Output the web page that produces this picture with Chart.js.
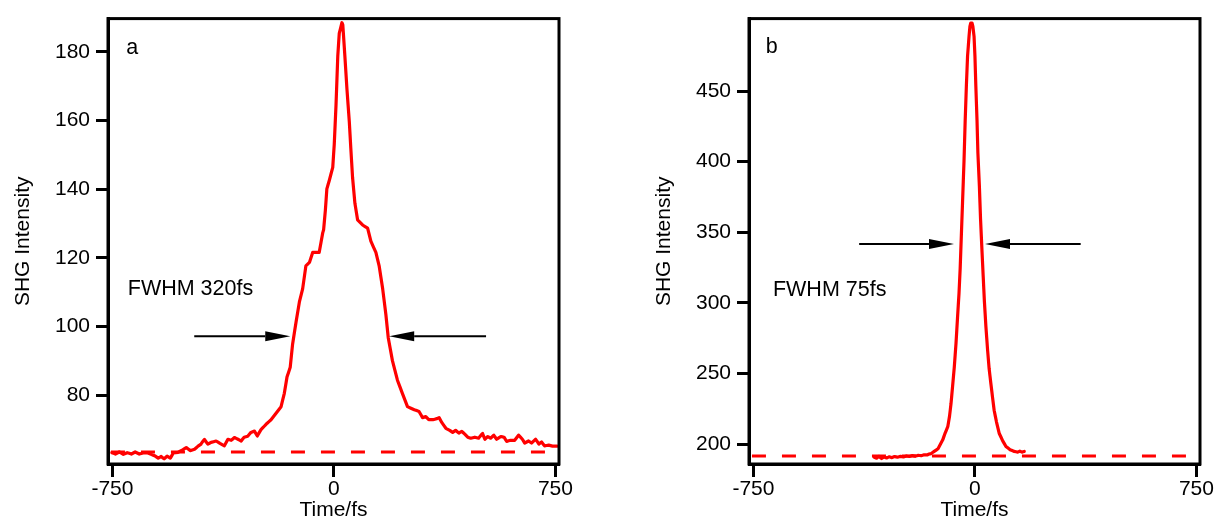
<!DOCTYPE html>
<html><head><meta charset="utf-8">
<script src="https://cdn.jsdelivr.net/npm/chart.js@4.4.1/dist/chart.umd.min.js"></script>
<style>
html,body{margin:0;padding:0;background:#fff;overflow:hidden}
#wa{position:absolute;left:0;top:0;width:600px;height:525px}
#wb{position:absolute;left:610px;top:0;width:609px;height:525px}
</style></head><body>
<div id="wa"><canvas id="ca"></canvas></div>
<div id="wb"><canvas id="cb"></canvas></div>
<script>
// ---- Panel a data (Time / fs, SHG intensity) ----
const timeA = [
  -752,-740,-727,-713,-700,-686,-673,-659,-646,-632,
  -619,-605,-595,-585,-575,-565,-554,-544,-528,-514,
  -500,-487,-472,-460,-450,-439,-427,-416,-399,-386,
  -371,-359,-348,-337,-325,-314,-304,-292,-281,-269,
  -260,-247,-236,-227,-213,-196,-179,-168,-159,-148,
  -140,-128,-117,-106,-95,-83,-72,-50,-38,-35,
  -29,-24,-16,-4,1,7,13,18,27,30,
  37,44,52,57,63,71,80,97,114,125,
  142,153,165,176,184,198,215,232,249,272,
  288,300,311,321,335,348,356,365,379,392,
  402,412,423,433,443,453,463,477,490,503,
  511,521,531,541,551,565,576,585,598,612,
  625,638,646,659,669,683,694,703,713,727,
  740,756
];
const shgA = [
  63.3,62.9,63.5,62.8,63.3,62.9,63.5,62.9,63.2,63.3,
  62.8,62.3,61.7,62.2,61.5,62.3,61.7,63.2,63.4,64.0,
  64.8,63.9,64.3,65.2,65.8,67.2,65.8,66.3,66.7,66.0,
  65.3,67.2,66.9,67.7,67.2,66.7,67.8,68.1,69.2,69.6,
  68.1,70.0,71.0,71.8,72.9,74.8,76.7,80.6,85.3,88.2,
  94.9,101.5,107.2,111.0,117.7,118.7,121.6,121.6,127.3,128.2,
  133.9,140.1,142.5,146.4,153.0,164.5,178.8,185.4,188.5,187.9,
  178.8,169.2,159.7,152.1,143.5,135.9,131.1,129.6,128.7,124.9,
  121.6,117.7,111.0,103.4,96.7,90.1,84.4,80.5,76.7,75.8,
  75.3,73.5,73.8,72.9,72.9,73.2,73.5,72.1,70.4,69.8,
  69.2,69.8,69.0,69.5,68.7,67.8,67.5,67.8,67.5,68.9,
  67.2,68.0,67.5,68.4,67.2,68.0,67.8,66.6,66.9,66.9,
  68.4,67.2,66.1,66.7,66.1,67.2,65.8,66.4,65.3,65.5,
  65.2,65.2
];
// ---- Panel b data ----
const timeB = [
  -341,-333,-325,-316,-308,-299,-290,-281,-272,-262,
  -252,-242,-232,-222,-212,-202,-192,-182,-172,-162,
  -155,-149,-138,-125,-109,-102,-92,-86,-81,-76,
  -70,-64,-59,-54,-50,-46,-42,-37,-33,-29,
  -25,-20,-17,-14,-10,-7,-3,0,3,7,
  10,15,19,24,28,32,37,43,48,54,
  60,65,73,82,94,105,119,133,145,152,
  159,167
];
const shgB = [
  190.6,190.0,191.3,189.8,190.9,190.2,191.0,190.4,191.2,190.7,
  191.3,190.9,191.6,191.2,191.9,191.5,192.0,191.8,192.4,192.3,
  193.0,193.2,194.8,196.7,203.0,207.2,212.3,219.8,228.7,240.1,
  254.3,271.6,289.4,306.6,324.4,348.0,371.1,400.5,429.4,453.7,
  474.7,488.7,495.7,498.2,498.2,495.7,488.7,474.7,453.7,429.4,
  406.1,382.8,359.2,336.1,318.6,301.1,283.6,266.1,253.5,242.7,
  232.4,224.0,215.6,207.7,202.3,198.3,196.0,194.8,194.3,195.0,
  194.3,194.8
];
// baselines (dashed)
const baseTimes = [-755, 728];
const baseA = [63.5, 63.5];
const baseB = [191.5, 191.5];
// axes
const xTicks = [-750, 0, 750];
const yTicksA = [80, 100, 120, 140, 160, 180];
const yTicksB = [200, 250, 300, 350, 400, 450];
const xRange = [-765, 762];
const yRangeA = [60.0, 189.7];
const yRangeB = [185.9, 501.3];
const xTitle = 'Time/fs';
const yTitle = 'SHG Intensity';
// annotations (data coordinates)
const arrowsA = [ {x1:-473, x2:-148, y:97.2}, {x1:515, x2:187, y:97.2} ];
const arrowsB = [ {x1:-392, x2:-71, y:341.7}, {x1:358, x2:34, y:341.7} ];
const labelsA = [ {text:'a', x:-703, y:179.4}, {text:'FWHM 320fs', x:-698, y:109.2} ];
const labelsB = [ {text:'b', x:-708, y:477.0}, {text:'FWHM 75fs', x:-684, y:304.6} ];

const FONT = "'Liberation Sans', Arial, Helvetica, sans-serif";
const FS = 21;
const FS_LABEL = 21.5;

const annotPlugin = {
  id: 'annot',
  afterDatasetsDraw(chart, args, opts) {
    const {ctx, chartArea: ca, scales: {x, y}} = chart;
    ctx.save();
    ctx.strokeStyle = '#000';
    ctx.lineWidth = 3;
    ctx.strokeRect(ca.left, ca.top, ca.right - ca.left, ca.bottom - ca.top);
    ctx.fillStyle = '#000';
    for (const a of opts.arrows) {
      const px1 = x.getPixelForValue(a.x1), px2 = x.getPixelForValue(a.x2), py = y.getPixelForValue(a.y);
      const dir = Math.sign(px2 - px1);
      const hl = 25, hw = 5;
      ctx.lineWidth = 1.8;
      ctx.beginPath();
      ctx.moveTo(px1, py); ctx.lineTo(px2 - dir * hl, py); ctx.stroke();
      ctx.beginPath();
      ctx.moveTo(px2, py);
      ctx.lineTo(px2 - dir * hl, py - hw);
      ctx.lineTo(px2 - dir * hl, py + hw);
      ctx.closePath(); ctx.fill();
    }
    ctx.font = FS_LABEL + 'px ' + FONT;
    ctx.textAlign = 'left';
    ctx.textBaseline = 'alphabetic';
    for (const l of opts.labels) {
      ctx.fillText(l.text, x.getPixelForValue(l.x), y.getPixelForValue(l.y));
    }
    ctx.restore();
  }
};

function makeChart(id, t, v, base, yTicks, yRange, arrows, labels, pad) {
  return new Chart(document.getElementById(id), {
    type: 'line',
    data: {
      datasets: [
        { data: baseTimes.map((tt, i) => ({x: tt, y: base[i]})), borderColor: '#ff0000', borderWidth: 3,
          borderDash: [14, 16], pointRadius: 0, fill: false },
        { data: t.map((tt, i) => ({x: tt, y: v[i]})), borderColor: '#ff0000', borderWidth: 3.2,
          pointRadius: 0, tension: 0.0001, fill: false, borderJoinStyle: 'round', borderCapStyle: 'round' }
      ]
    },
    options: {
      responsive: true, maintainAspectRatio: false, animation: false, devicePixelRatio: 1,
      layout: { padding: pad },
      plugins: { legend: {display: false}, tooltip: {enabled: false}, annot: {arrows, labels} },
      scales: {
        x: {
          type: 'linear', min: xRange[0], max: xRange[1],
          afterBuildTicks: s => { s.ticks = xTicks.map(val => ({value: val})); },
          afterFit: s => { s.height = 61; },
          grid: { drawOnChartArea: false, drawTicks: true, tickLength: 13, tickWidth: 3, tickColor: '#000' },
          border: { display: true, color: '#000', width: 3 },
          ticks: { color: '#000', font: {family: FONT, size: FS}, padding: 0, maxRotation: 0, autoSkip: false },
          title: { display: true, text: xTitle, color: '#000', font: {family: FONT, size: FS, lineHeight: 1.2}, padding: {top: 0, bottom: 2} }
        },
        y: {
          type: 'linear', min: yRange[0], max: yRange[1],
          afterBuildTicks: s => { s.ticks = yTicks.map(val => ({value: val})); },
          afterFit: s => { s.width = 107; },
          grid: { drawOnChartArea: false, drawTicks: true, tickLength: 12, tickWidth: 3, tickColor: '#000' },
          border: { display: true, color: '#000', width: 3 },
          ticks: { color: '#000', font: {family: FONT, size: FS}, padding: 6, autoSkip: false },
          title: { display: true, text: yTitle, color: '#000', font: {family: FONT, size: FS, lineHeight: 1.2}, padding: {top: 9.4, bottom: 0} }
        }
      }
    },
    plugins: [annotPlugin]
  });
}

makeChart('ca', timeA, shgA, baseA, yTicksA, yRangeA, arrowsA, labelsA, {left: 1, top: 12, right: 41, bottom: 0});
makeChart('cb', timeB, shgB, baseB, yTicksB, yRangeB, arrowsB, labelsB, {left: 32, top: 14, right: 19, bottom: 0});
</script>
</body></html>
